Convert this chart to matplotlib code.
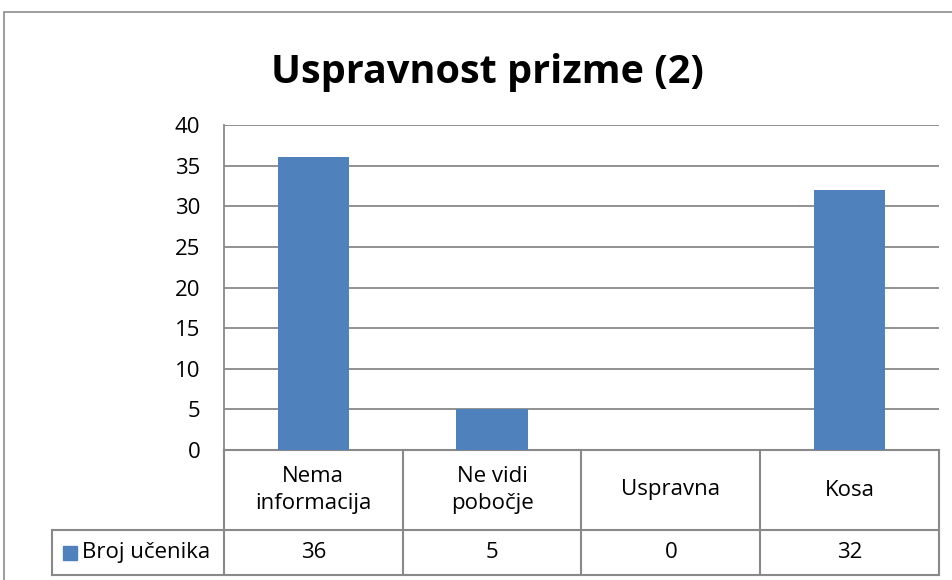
import matplotlib.pyplot as plt
from matplotlib.patches import Rectangle
from matplotlib.lines import Line2D

categories = ['Nema\ninformacija', 'Ne vidi\npobočje', 'Uspravna', 'Kosa']
values = [36, 5, 0, 32]
series_name = 'Broj učenika'
title = 'Uspravnost prizme (2)'
yticks = [0, 5, 10, 15, 20, 25, 30, 35, 40]

bar_color = '#4F81BD'
grid_color = '#898989'

plt.rcParams['font.family'] = ['Open Sans', 'DejaVu Sans']

W, H = 953, 580
fig = plt.figure(figsize=(W / 100, H / 100), dpi=100)

def fx(px):
    return px / W

def fy(py):
    return 1 - py / H

# chart area border (cut off at the right and bottom)
fig.add_artist(Rectangle((fx(4), fy(700)), fx(1000), fy(12) - fy(700),
                         transform=fig.transFigure, fill=False,
                         edgecolor='#8c8c8c', linewidth=1.2))

ax = fig.add_axes([fx(224), fy(450), fx(939) - fx(224), fy(125) - fy(450)])
x = list(range(len(categories)))
ax.bar(x, values, width=0.4, color=bar_color, zorder=3)
ax.set_xlim(-0.5, len(categories) - 0.5)
ax.set_ylim(0, 40)
ax.set_yticks(yticks)
ax.set_xticks([])
ax.tick_params(axis='y', length=0, pad=17, labelsize=16)
ax.grid(axis='y', color=grid_color, linewidth=1.3, zorder=0)
for s in ['top', 'right', 'bottom']:
    ax.spines[s].set_visible(False)
ax.spines['left'].set_color(grid_color)
ax.spines['left'].set_linewidth(1.3)

fig.text(0.511, fy(73), title, ha='center', va='center',
         fontsize=28.5, fontweight='bold')

# data table under the axis
ph = 325.0
r1 = -80 / ph
r2 = -125 / ph
left_ax = (52 - 224) / 715.0
tr = ax.get_xaxis_transform()
lw = 1.5
for b in range(len(categories) + 1):
    ax.add_line(Line2D([b - 0.5, b - 0.5], [0, r2], transform=tr,
                       color=grid_color, lw=lw, clip_on=False))
ax.add_line(Line2D([-0.5, len(categories) - 0.5], [0, 0], transform=tr,
                   color=grid_color, lw=lw, clip_on=False))
ax.add_line(Line2D([left_ax, 1], [r1, r1], transform=ax.transAxes,
                   color=grid_color, lw=lw, clip_on=False))
ax.add_line(Line2D([left_ax, 1], [r2, r2], transform=ax.transAxes,
                   color=grid_color, lw=lw, clip_on=False))
ax.add_line(Line2D([left_ax, left_ax], [r1, r2], transform=ax.transAxes,
                   color=grid_color, lw=lw, clip_on=False))

for i, (c, v) in enumerate(zip(categories, values)):
    ax.text(i, r1 / 2, c, transform=tr, ha='center', va='center',
            fontsize=16, linespacing=1.4, clip_on=False)
    ax.text(i, (r1 + r2) / 2, str(v), transform=tr, ha='center', va='center',
            fontsize=16, clip_on=False)

ax.add_patch(Rectangle(((63 - 224) / 715.0, (r1 + r2) / 2 - 7 / ph),
                       14 / 715.0, 14 / ph, transform=ax.transAxes,
                       color=bar_color, clip_on=False))
ax.text((82 - 224) / 715.0, (r1 + r2) / 2, series_name, transform=ax.transAxes,
        ha='left', va='center', fontsize=16, clip_on=False)

fig.savefig('out.png', dpi=100)
